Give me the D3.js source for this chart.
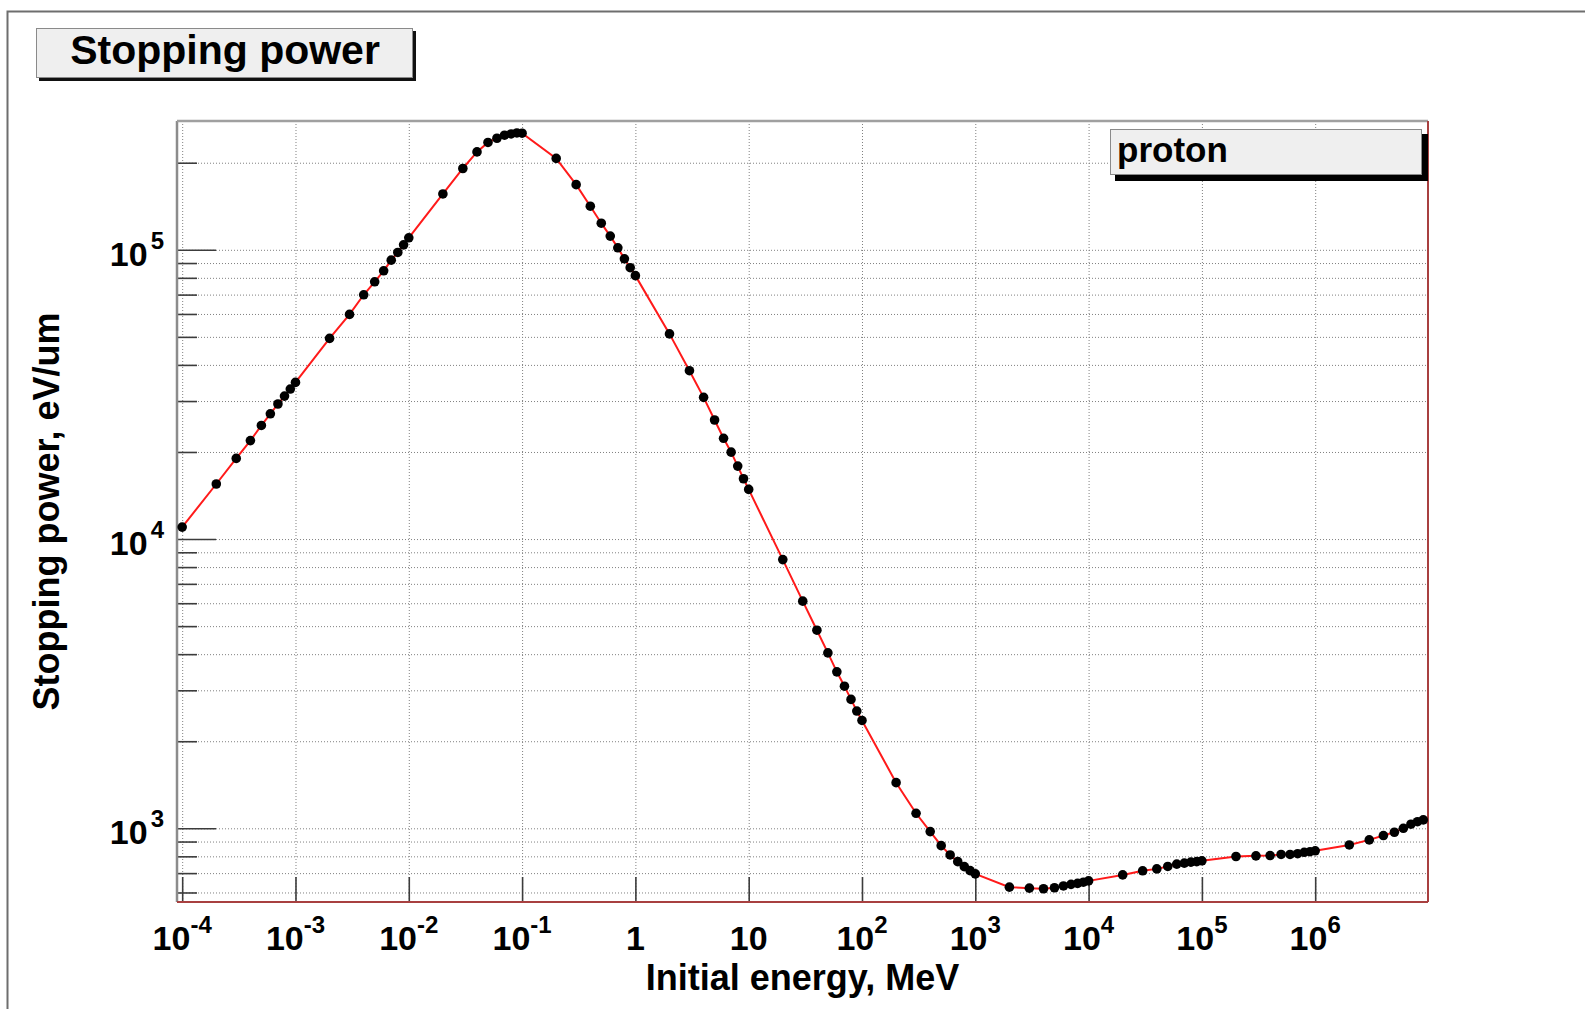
<!DOCTYPE html>
<html><head><meta charset="utf-8">
<script src="https://cdn.jsdelivr.net/npm/d3@7"></script>
<style>
body{margin:0;background:#fff}
svg{display:block;font-family:"Liberation Sans",Arial,Helvetica,sans-serif;font-weight:bold}
</style>
</head><body><svg id="c" width="1585" height="1009"></svg>
<script>
// Initial energy, MeV
const energy = [
  1e-4,2e-4,3e-4,4e-4,5e-4,6e-4,7e-4,8e-4,9e-4,
  1e-3,2e-3,3e-3,4e-3,5e-3,6e-3,7e-3,8e-3,9e-3,
  1e-2,2e-2,3e-2,4e-2,5e-2,6e-2,7e-2,8e-2,9e-2,
  0.1,0.2,0.3,0.4,0.5,0.6,0.7,0.8,0.9,
  1,2,3,4,5,6,7,8,9,
  10,20,30,40,50,60,70,80,90,
  100,200,300,400,500,600,700,800,900,
  1e3,2e3,3e3,4e3,5e3,6e3,7e3,8e3,9e3,
  1e4,2e4,3e4,4e4,5e4,6e4,7e4,8e4,9e4,
  1e5,2e5,3e5,4e5,5e5,6e5,7e5,8e5,9e5,
  1e6,2e6,3e6,4e6,5e6,6e6,7e6,8e6,9e6
];
// Stopping power, eV/um
const stopping = [
  11000,15500,19000,21900,24700,27100,29300,31200,33000,
  34800,49400,59800,69900,77500,84600,92100,97900,104000,
  110000,156000,191000,218000,235000,243000,249000,251500,253500,
  253000,207000,168000,141500,123600,111500,101600,93100,86700,
  81400,51200,38200,30900,25800,22300,19970,17870,16160,
  14850,8490,6100,4840,4040,3475,3100,2790,2543,
  2360,1438,1127,974,871,809,767,737,714,
  696,626,621,618,623,632,640,645,651,
  658,690,713,724,738,752,758,764,767,
  772,799,803,805,812,812,817,826,830,
  836,876,912,944,969,1000,1033,1054,1069
];
const xMajorTicks = [1e-4,1e-3,1e-2,1e-1,1,10,100,1e3,1e4,1e5,1e6];
const xTickBase   = ["10","10","10","10","1","10","10","10","10","10","10"];
const xTickExp    = ["-4","-3","-2","-1","","","2","3","4","5","6"];
const yMajorTicks = [1e3,1e4,1e5];
const yTickBase   = ["10","10","10"];
const yTickExp    = ["3","4","5"];
const titleText = "Stopping power";
const legendText = "proton";
const xTitle = "Initial energy, MeV";
const yTitle = "Stopping power, eV/um";

const svg = d3.select("#c");
const L = 177, R = 1428, T = 121, B = 902;

const x = d3.scaleLog()
  .domain([d3.min(energy) * 0.9, d3.max(energy) * 1.1])
  .range([L, R]);
const yMin = d3.min(stopping), yMax = d3.max(stopping);
const y = d3.scaleLog()
  .domain([yMin * 0.9, yMax + 0.1 * (yMax - yMin)])
  .range([B, T]);

const isMajor = v => Math.abs(Math.log10(v) - Math.round(Math.log10(v))) < 1e-9;
const xMinor = x.ticks().filter(v => !isMajor(v));
const yMinor = y.ticks().filter(v => !isMajor(v));
const yAll = y.ticks();

// canvas border
svg.append("rect").attr("x", 7.5).attr("y", 11.5).attr("width", 1700).attr("height", 1100)
  .attr("fill", "none").attr("stroke", "#6e6e6e").attr("stroke-width", 2);

// grid
const gridStyle = g => {
  g.select(".domain").remove();
  g.selectAll("line").attr("stroke", "#808080").attr("stroke-width", 1).attr("stroke-dasharray", "1,2");
  g.selectAll("text").remove();
};
svg.append("g").attr("transform", `translate(0,${B})`)
  .call(d3.axisBottom(x).tickValues(xMajorTicks).tickSize(-(B - T)).tickFormat(""))
  .call(gridStyle);
svg.append("g").attr("transform", `translate(${L},0)`)
  .call(d3.axisLeft(y).tickValues(yAll).tickSize(-(R - L)).tickFormat(""))
  .call(gridStyle);

// ticks
const tickStyle = g => {
  g.select(".domain").remove();
  g.selectAll("line").attr("stroke", "#3c3c3c").attr("stroke-width", 1.6);
  g.selectAll("text").remove();
};
svg.append("g").attr("transform", `translate(0,${B})`)
  .call(d3.axisBottom(x).tickValues(xMajorTicks).tickSize(-25).tickFormat("")).call(tickStyle);
svg.append("g").attr("transform", `translate(0,${B})`)
  .call(d3.axisBottom(x).tickValues(xMinor).tickSize(-12).tickFormat("")).call(tickStyle);
svg.append("g").attr("transform", `translate(${L},0)`)
  .call(d3.axisLeft(y).tickValues(yMajorTicks).tickSize(-39).tickFormat("")).call(tickStyle);
svg.append("g").attr("transform", `translate(${L},0)`)
  .call(d3.axisLeft(y).tickValues(yMinor).tickSize(-20).tickFormat("")).call(tickStyle);

// frame
svg.append("line").attr("x1", L).attr("x2", L).attr("y1", T).attr("y2", B)
  .attr("stroke", "#8c8c8c").attr("stroke-width", 2.5);
svg.append("line").attr("x1", L).attr("x2", R).attr("y1", T).attr("y2", T)
  .attr("stroke", "#a0a0a0").attr("stroke-width", 2.5);
svg.append("line").attr("x1", R).attr("x2", R).attr("y1", T).attr("y2", B)
  .attr("stroke", "#a84040").attr("stroke-width", 2);
svg.append("line").attr("x1", L).attr("x2", R).attr("y1", B).attr("y2", B)
  .attr("stroke", "#a84040").attr("stroke-width", 2);

// curve
const data = energy.map((e, i) => [e, stopping[i]]);
svg.append("path").datum(data)
  .attr("d", d3.line().x(d => x(d[0])).y(d => y(d[1])))
  .attr("fill", "none").attr("stroke", "#ff1a1a").attr("stroke-width", 2);
svg.append("g").selectAll("circle").data(data).join("circle")
  .attr("cx", d => x(d[0])).attr("cy", d => y(d[1])).attr("r", 4.8).attr("fill", "#000");

// x tick labels
xMajorTicks.forEach((v, i) => {
  const t = svg.append("text").attr("x", x(v)).attr("y", B + 48)
    .attr("text-anchor", "middle").attr("font-size", 34).attr("fill", "#000");
  t.append("tspan").text(xTickBase[i]);
  if (xTickExp[i]) t.append("tspan").attr("dy", -17).attr("font-size", 24).text(xTickExp[i]);
});
// y tick labels
yMajorTicks.forEach((v, i) => {
  const t = svg.append("text").attr("x", 164).attr("y", y(v) + 16)
    .attr("text-anchor", "end").attr("font-size", 34).attr("fill", "#000");
  t.append("tspan").text(yTickBase[i]);
  t.append("tspan").attr("dx", 3).attr("dy", -17).attr("font-size", 24).text(yTickExp[i]);
});

// axis titles
svg.append("text").attr("x", (L + R) / 2).attr("y", 990).attr("text-anchor", "middle")
  .attr("font-size", 36).text(xTitle);
svg.append("text").attr("transform", `translate(59,${(T + B) / 2}) rotate(-90)`)
  .attr("text-anchor", "middle").attr("font-size", 36).text(yTitle);

// title box
svg.append("rect").attr("x", 39).attr("y", 31).attr("width", 377).attr("height", 50).attr("fill", "#111");
svg.append("rect").attr("x", 36.5).attr("y", 28.5).attr("width", 376).attr("height", 49)
  .attr("fill", "#efefef").attr("stroke", "#8a8a8a").attr("stroke-width", 1);
svg.append("text").attr("x", 225).attr("y", 64).attr("text-anchor", "middle")
  .attr("font-size", 41).text(titleText);

// legend box
svg.append("rect").attr("x", 1115).attr("y", 134).attr("width", 313).attr("height", 47).attr("fill", "#000");
svg.append("rect").attr("x", 1110.5).attr("y", 129.5).attr("width", 311).attr("height", 45)
  .attr("fill", "#efefef").attr("stroke", "#8a8a8a").attr("stroke-width", 1);
svg.append("text").attr("x", 1117).attr("y", 162).attr("font-size", 35).text(legendText);
</script>
</body></html>
